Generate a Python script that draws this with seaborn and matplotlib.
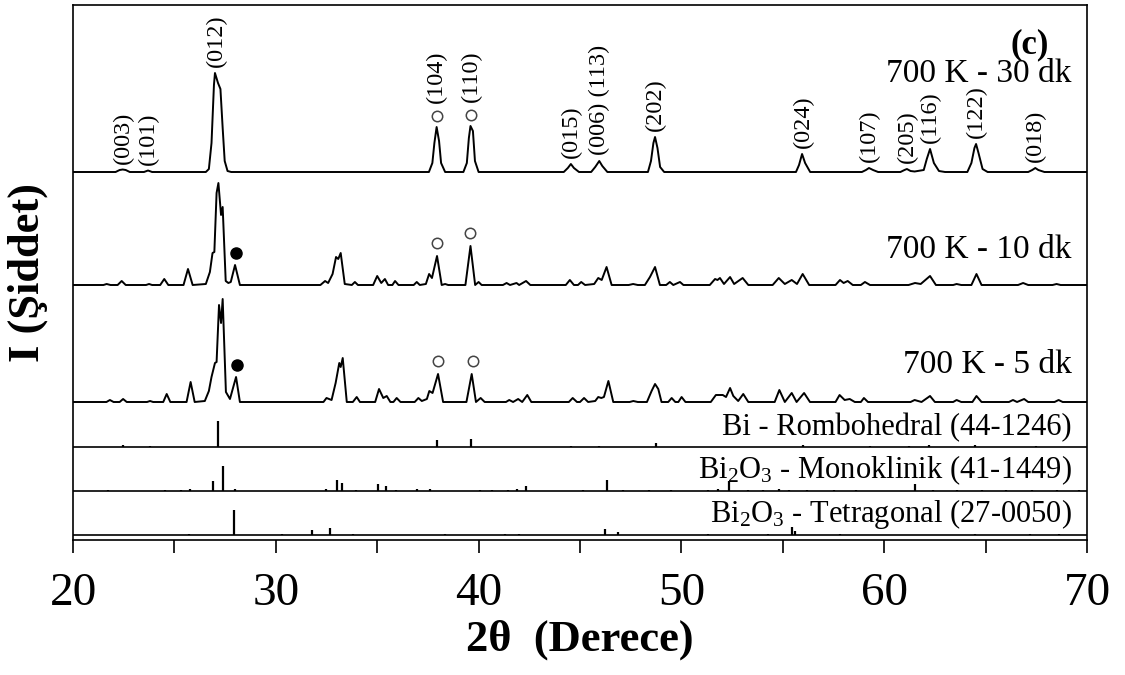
import matplotlib.pyplot as plt
import seaborn as sns
import numpy as np
from matplotlib.ticker import MultipleLocator

# XRD traces: 2theta (degree) and height above each trace's baseline (arb.)
x_30 = [20, 21.0, 22.1, 22.3, 22.45, 22.6, 22.8, 23.5, 23.7, 23.9, 25.0, 26.55, 26.7, 26.83, 26.95,
        27.0, 27.15, 27.27, 27.38, 27.48, 27.62, 27.8, 30.0, 33.0, 35.0, 37.55, 37.72, 37.82, 37.93,
        38.05, 38.15, 38.35, 39.25, 39.42, 39.52, 39.6, 39.72, 39.82, 40.0, 42.0, 44.2, 44.4, 44.55,
        44.7, 44.95, 45.55, 45.75, 45.95, 46.1, 46.35, 47.5, 48.35, 48.5, 48.62, 48.7, 48.82, 48.95,
        49.15, 52.0, 55.65, 55.8, 55.95, 56.1, 56.35, 58.9, 59.1, 59.25, 59.45, 59.7, 60.8, 61.0,
        61.12, 61.3, 61.5, 61.95, 62.1, 62.26, 62.45, 62.7, 63.0, 64.1, 64.3, 64.45, 64.53, 64.65,
        64.85, 65.1, 67.1, 67.3, 67.45, 67.6, 67.9, 70]
y_30 = [1, 1, 1, 3, 3.5, 3, 1, 1, 2.5, 1, 1, 1, 4, 30, 88,
        100, 90, 84, 45, 12, 2, 1, 1, 1, 1, 1, 10, 30, 46,
        32, 10, 1, 1, 10, 35, 47, 42, 12, 1, 1, 1, 5, 9,
        5, 1, 1, 6, 12, 7, 1, 1, 1, 12, 30, 36, 25, 6,
        1, 1, 1, 8, 19, 10, 1, 1, 3, 5, 3, 1, 1, 3,
        4, 2, 1.5, 3, 14, 24, 10, 2, 1, 1, 10, 25, 29, 20,
        4, 1, 1, 3, 5, 3, 1, 1]

x_10 = [20, 21.5, 21.66, 21.85, 22.2, 22.4, 22.6, 23.6, 23.75, 23.9, 24.3, 24.5, 24.7, 25.45, 25.67,
        25.9, 26.55, 26.75, 26.88, 26.97, 27.08, 27.17, 27.3, 27.38, 27.53, 27.66, 27.78, 27.99, 28.23,
        30.0, 32.2, 32.43, 32.58, 32.8, 32.97, 33.08, 33.2, 33.4, 33.75, 33.9, 34.05, 34.8, 35.0, 35.2,
        35.38, 35.54, 35.75, 35.88, 36.05, 36.8, 36.95, 37.1, 37.4, 37.56, 37.7, 37.95, 38.18, 38.35,
        38.5, 39.35, 39.6, 39.83, 40.0, 40.15, 41.2, 41.38, 41.55, 41.87, 42.0, 42.34, 42.55, 44.3,
        44.5, 44.7, 44.9, 45.06, 45.25, 45.7, 45.9, 46.07, 46.31, 46.56, 47.4, 47.62, 47.85, 48.2,
        48.45, 48.7, 48.94, 49.25, 49.43, 49.6, 49.93, 50.1, 51.4, 51.66, 51.78, 51.9, 52.1, 52.4,
        52.6, 53.02, 53.3, 54.5, 54.8, 55.1, 55.44, 55.7, 55.98, 56.3, 57.6, 57.82, 58.0, 58.2, 58.45,
        58.85, 59.05, 59.3, 61.2, 61.52, 61.8, 62.26, 62.55, 63.4, 63.57, 63.8, 64.3, 64.55, 64.8,
        66.6, 66.85, 67.1, 68.3, 68.5, 68.7, 70]
y_10 = [1, 1, 2, 1, 1, 5, 1, 1, 2, 1, 1, 7, 1, 1, 17,
        1, 2, 14, 33, 34, 93, 103, 71, 79, 5, 3, 4, 21, 1,
        1, 1, 5, 3, 12, 29, 27, 33, 2, 1, 4, 1, 1, 10, 3,
        7, 1, 1, 5, 1, 1, 4, 1, 2, 12, 8, 30, 1, 2,
        1, 1, 40, 1, 4, 1, 1, 3, 1, 3, 1, 5, 1, 1,
        6, 1, 1, 4, 1, 2, 8, 6, 19, 1, 1, 2, 1, 1,
        9, 19, 1, 1, 4, 1, 4, 1, 1, 7, 6, 8, 2, 9,
        2, 8, 1, 1, 8, 2, 6, 2, 12, 1, 1, 6, 3, 5, 1,
        1, 4, 1, 1, 3, 2, 10, 1, 1, 2, 1, 1, 12, 1,
        1, 3, 1, 1, 2, 1, 1]

x_5 = [20, 21.65, 21.82, 22.0, 22.3, 22.47, 22.65, 23.65, 23.8, 23.95, 24.45, 24.62, 24.8, 25.6, 25.8,
       26.0, 26.5, 26.7, 26.83, 27.0, 27.08, 27.2, 27.3, 27.38, 27.54, 27.74, 28.04, 28.23, 30.0,
       32.35, 32.5, 32.75, 32.95, 33.13, 33.2, 33.3, 33.5, 33.8, 33.99, 34.15, 34.9, 35.09, 35.3,
       35.47, 35.65, 35.8, 35.96, 36.15, 36.85, 37.03, 37.2, 37.45, 37.57, 37.73, 38.0, 38.25, 38.4,
       39.4, 39.66, 39.87, 40.1, 40.3, 41.35, 41.51, 41.7, 41.95, 42.15, 42.4, 42.6, 44.45, 44.64,
       44.85, 45.0, 45.2, 45.4, 45.75, 45.9, 46.05, 46.18, 46.4, 46.64, 47.45, 47.63, 47.85, 48.3,
       48.53, 48.7, 48.86, 49.02, 49.35, 49.52, 49.7, 49.85, 50.01, 50.2, 51.45, 51.7, 52.04, 52.2,
       52.4, 52.56, 52.8, 53.05, 53.3, 54.6, 54.83, 55.1, 55.44, 55.68, 56.05, 56.34, 57.6, 57.8,
       58.05, 58.3, 58.55, 58.85, 59.0, 59.2, 61.3, 61.5, 61.84, 62.26, 62.5, 63.4, 63.57, 63.8,
       64.35, 64.55, 64.8, 66.15, 66.35, 66.55, 66.9, 67.1, 68.4, 68.6, 68.8, 70]
y_5 = [1, 1, 3, 1, 1, 4, 1, 1, 2, 1, 1, 9, 1, 1, 21,
       1, 2, 12, 26, 40, 41, 98, 80, 104, 11, 4, 26, 1, 1,
       1, 5, 3, 20, 40, 36, 45, 1, 1, 6, 1, 1, 14, 5,
       7, 1, 1, 5, 1, 1, 5, 2, 4, 12, 10, 29, 1, 1,
       1, 29, 1, 5, 1, 1, 3, 1, 4, 1, 8, 1, 1, 5,
       1, 1, 5, 1, 2, 6, 5, 6, 22, 1, 1, 2, 1, 1,
       12, 19, 14, 1, 1, 5, 1, 1, 6, 1, 1, 8, 8, 6,
       15, 7, 2, 9, 1, 1, 13, 1, 10, 1, 10, 1, 1, 8,
       3, 4, 1, 1, 5, 1, 1, 3, 1, 7, 1, 1, 3, 1,
       1, 7, 1, 1, 3, 1, 4, 1, 1, 3, 1, 1]

# reference cards (stick patterns)
bi_pos = [22.47, 23.8, 27.15, 37.93, 39.62, 44.55, 45.96, 48.75, 56.0, 59.3, 61.2, 62.2, 64.5, 67.5]
bi_int = [2, 1.5, 26, 7, 8, 1, 1, 4, 2, 1, 1, 2, 2, 1]
mono_pos = [21.74, 24.54, 25.31, 25.77, 26.92, 27.38, 27.99, 32.47, 33.03, 33.25, 33.95, 35.05, 35.41,
            35.92, 36.98, 37.6, 40.07, 40.64, 41.46, 41.87, 42.36, 45.15, 46.32, 47.12, 48.4, 49.49,
            51.3, 51.8, 52.37, 53.3, 54.0, 54.83, 55.3, 56.2, 57.5, 58.6, 61.52, 62.4, 63.6, 64.8,
            66.0, 67.3, 68.5, 69.6]
mono_int = [1, 1, 1, 2, 10, 25, 2, 2, 11, 8, 1, 7, 5,
            1, 2, 2, 1, 1, 1, 2, 5, 1, 11, 1, 1, 1,
            1, 2, 10, 1, 1, 2, 1, 1, 1, 1, 7, 1, 1, 1,
            1, 1, 1, 1]
tetra_pos = [25.74, 27.94, 30.29, 31.77, 32.67, 33.82, 38.35, 41.3, 42.0, 46.23, 46.86, 51.3, 54.27,
             55.45, 55.6, 57.8, 64.5, 67.2, 68.6]
tetra_int = [1, 25, 1, 5, 7, 1, 1, 1, 1, 6, 3, 1, 1, 8, 4, 1, 1, 1, 1]

# Miller indices of the 30 dk trace and the peak height they sit on
hkl = ['(003)', '(101)', '(012)', '(104)', '(110)', '(015)', '(006) (113)', '(202)', '(024)',
       '(107)', '(205)', '(116)', '(122)', '(018)']
hkl_pos = [22.47, 23.7, 27.05, 37.93, 39.62, 44.55, 45.95, 48.7, 56.0, 59.25, 61.12, 62.26, 64.53, 67.45]
hkl_peak = [3.5, 2.5, 100, 46, 47, 9, 12, 36, 19, 5, 4, 24, 29, 5]
hkl_open = [False, False, False, True, True, False, False, False, False, False, False, False, False, False]

# phase markers on the 10 dk and 5 dk traces: (2theta, peak height, filled?)
marks_10 = [(28.04, 21, True), (37.93, 30, False), (39.6, 40, False)]
marks_5 = [(28.1, 26, True), (37.98, 29, False), (39.72, 29, False)]

sns.set_theme(style="ticks")
plt.rcParams['font.family'] = ['Liberation Serif', 'DejaVu Serif']
plt.rcParams['mathtext.default'] = 'regular'
plt.rcParams['text.color'] = 'black'
plt.rcParams['axes.labelcolor'] = 'black'
plt.rcParams['xtick.color'] = 'black'

fig = plt.figure(figsize=(11.25, 6.75), dpi=100)
ax = fig.add_axes([73 / 1125, 135 / 675, 1014 / 1125, 535 / 675])

# vertical stacking (baselines)
off30, off10, off5 = 367, 254, 137
base_bi, base_mono, base_tet = 93, 49, 5

for xs, ys, off in [(x_30, y_30, off30), (x_10, y_10, off10), (x_5, y_5, off5)]:
    sns.lineplot(x=xs, y=np.array(ys) + off, color='black', lw=1.4, ax=ax,
                 estimator=None, sort=False)

for pos, inten, base in [(bi_pos, bi_int, base_bi), (mono_pos, mono_int, base_mono),
                         (tetra_pos, tetra_int, base_tet)]:
    ax.vlines(pos, base, base + np.array(inten), color='black', lw=1.6)
    ax.axhline(base, color='black', lw=1.2)

for lab, xp, h, circ in zip(hkl, hkl_pos, hkl_peak, hkl_open):
    if circ:
        ax.plot(xp, off30 + h + 11, 'o', mfc='none', mec='#444444', ms=7.5, mew=1.1)
        dy = 17
    else:
        dy = 4
    ax.annotate(lab, (xp, off30 + h), xytext=(0, dy), textcoords='offset points',
                rotation=90, ha='center', va='bottom', fontsize=17.5, color='black')

for marks, off in [(marks_10, off10), (marks_5, off5)]:
    for xp, h, filled in marks:
        if filled:
            ax.plot(xp, off + h + 12, 'o', color='black', ms=8)
        else:
            ax.plot(xp, off + h + 13, 'o', mfc='none', mec='#444444', ms=7.5, mew=1.1)

tx = 69.26
ax.text(68.1, 487, '(c)', ha='right', va='baseline', fontsize=25, fontweight='bold')
ax.text(tx, 458, '700 K - 30 dk', ha='right', va='baseline', fontsize=24)
ax.text(tx, 282, '700 K - 10 dk', ha='right', va='baseline', fontsize=24)
ax.text(tx, 167, '700 K - 5 dk', ha='right', va='baseline', fontsize=24)
ax.text(tx, 105, 'Bi - Rombohedral (44-1246)', ha='right', va='baseline', fontsize=22)
ax.text(tx, 62, 'Bi$_2$O$_3$ - Monoklinik (41-1449)', ha='right', va='baseline', fontsize=22)
ax.text(tx, 18, 'Bi$_2$O$_3$ - Tetragonal (27-0050)', ha='right', va='baseline', fontsize=22)

ax.set_xlim(20, 70)
ax.set_ylim(0, 535)
ax.xaxis.set_major_locator(MultipleLocator(10))
ax.xaxis.set_minor_locator(MultipleLocator(5))
ax.tick_params(axis='x', which='both', direction='out', length=9.5, width=1.2,
               color='black', labelcolor='black', labelsize=34, pad=14)
ax.set_yticks([])
for s in ax.spines.values():
    s.set_linewidth(1.2)
    s.set_color('black')

ax.set_xlabel('2θ  (Derece)', fontsize=32, fontweight='bold', labelpad=3)
ax.set_ylabel('I (Şiddet)', fontsize=32, fontweight='bold', labelpad=18)

fig.savefig('out.png', dpi=100)
